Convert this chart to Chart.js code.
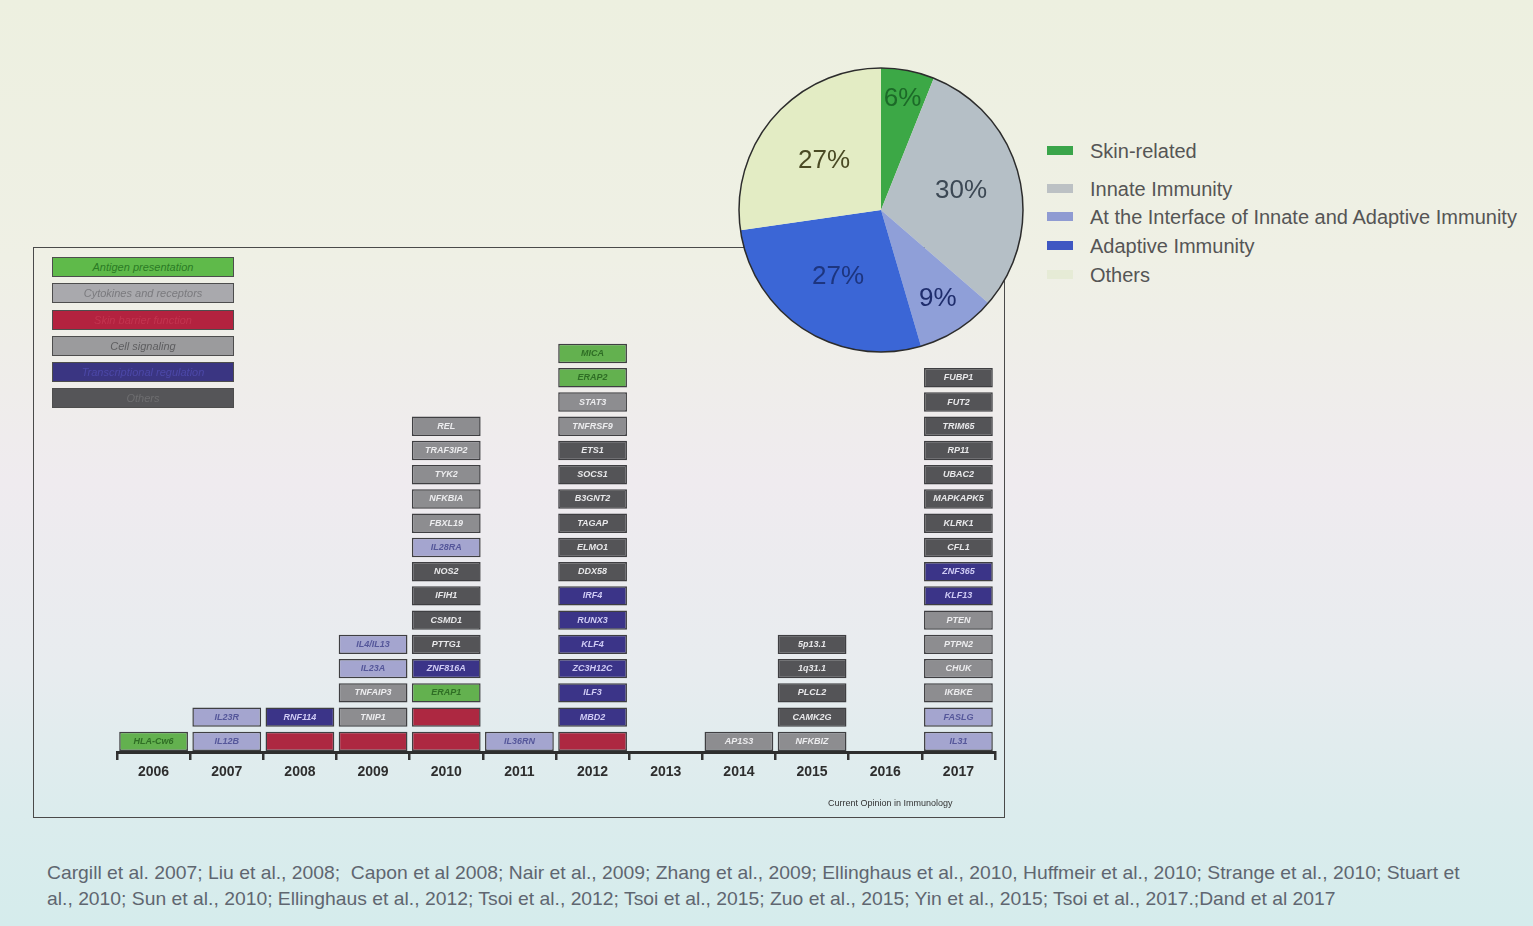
<!DOCTYPE html>
<html>
<head>
<meta charset="utf-8">
<script src="https://cdn.jsdelivr.net/npm/chart.js@4.4.1/dist/chart.umd.min.js"></script>
<style>
  html, body { margin: 0; padding: 0; }
  body {
    width: 1533px; height: 926px; position: relative; overflow: hidden;
    font-family: "Liberation Sans", Arial, sans-serif;
    background: linear-gradient(180deg, #edf0e0 0%, #eff0e5 28%, #efebef 52%, #e8ecef 72%, #dbeced 88%, #d5ecec 100%);
  }
  #box { position: absolute; left: 33px; top: 247px; width: 970px; height: 569px; border: 1.5px solid #4a4a4a; }
  #barWrap { position: absolute; left: 33px; top: 247px; width: 972px; height: 571px; }
  #pieWrap { position: absolute; left: 735px; top: 64px; width: 292px; height: 292px; }
  .fkey { position: absolute; left: 52px; width: 180px; height: 18px; border: 1.5px solid #4d4d4d;
          font-size: 11px; font-style: italic; text-align: center; line-height: 18px; }
  .pkey { position: absolute; left: 1047px; font-size: 20px; color: #555; }
  .pkey span { display: inline-block; width: 26px; height: 9px; margin-right: 17px; vertical-align: middle; position: relative; top: -2px; }
  #source { position: absolute; left: 828px; top: 798px; font-size: 9px; color: #333; }
  #refs { position: absolute; left: 47px; top: 860px; font-size: 19px; line-height: 26px; color: #5f6670;
          white-space: nowrap; transform-origin: 0 0; }
</style>
</head>
<body>
<div id="box"></div>
<div id="barWrap"><canvas id="barChart"></canvas></div>
<div id="pieWrap"><canvas id="pieChart"></canvas></div>
<div id="fkeys"></div>
<div id="pkeys"></div>
<div id="source">Current Opinion in Immunology</div>
<div id="refs">Cargill et al. 2007; Liu et al., 2008;&nbsp; Capon et al 2008; Nair et al., 2009; Zhang et al., 2009; Ellinghaus et al., 2010, Huffmeir et al., 2010; Strange et al., 2010; Stuart et<br>al., 2010; Sun et al., 2010; Ellinghaus et al., 2012; Tsoi et al., 2012; Tsoi et al., 2015; Zuo et al., 2015; Yin et al., 2015; Tsoi et al., 2017.;Dand et al 2017</div>

<script>
// years on the x axis
const years = ['2006', '2007', '2008', '2009', '2010', '2011', '2012', '2013', '2014', '2015', '2016', '2017'];

// genes per year, bottom to top
const genes = [
  ['HLA-Cw6'],
  ['IL12B', 'IL23R'],
  ['', 'RNF114'],
  ['', 'TNIP1', 'TNFAIP3', 'IL23A', 'IL4/IL13'],
  ['', '', 'ERAP1', 'ZNF816A', 'PTTG1', 'CSMD1', 'IFIH1', 'NOS2', 'IL28RA', 'FBXL19', 'NFKBIA', 'TYK2', 'TRAF3IP2', 'REL'],
  ['IL36RN'],
  ['', 'MBD2', 'ILF3', 'ZC3H12C', 'KLF4', 'RUNX3', 'IRF4', 'DDX58', 'ELMO1', 'TAGAP', 'B3GNT2', 'SOCS1', 'ETS1', 'TNFRSF9', 'STAT3', 'ERAP2', 'MICA'],
  [],
  ['AP1S3'],
  ['NFKBIZ', 'CAMK2G', 'PLCL2', '1q31.1', '5p13.1'],
  [],
  ['IL31', 'FASLG', 'IKBKE', 'CHUK', 'PTPN2', 'PTEN', 'KLF13', 'ZNF365', 'CFL1', 'KLRK1', 'MAPKAPK5', 'UBAC2', 'RP11', 'TRIM65', 'FUT2', 'FUBP1']
];

// function group of each gene (index into functionLabels)
const groups = [
  [0],
  [1, 1],
  [2, 4],
  [2, 3, 3, 1, 1],
  [2, 2, 0, 4, 5, 5, 5, 5, 1, 3, 3, 3, 3, 3],
  [1],
  [2, 4, 4, 4, 4, 4, 4, 5, 5, 5, 5, 5, 5, 3, 3, 0, 0],
  [],
  [3],
  [3, 5, 5, 5, 5],
  [],
  [1, 1, 3, 3, 3, 3, 4, 4, 5, 5, 5, 5, 5, 5, 5, 5]
];

const functionLabels = ['Antigen presentation', 'Cytokines and receptors', 'Skin barrier function', 'Cell signaling', 'Transcriptional regulation', 'Others'];

// pie
const pieLabels = ['Skin-related', 'Innate Immunity', 'At the Interface of Innate and Adaptive Immunity', 'Adaptive Immunity', 'Others'];
const pieValues = [6, 30, 9, 27, 27];

// styles
const groupFill = ['#63b14f', '#a4a5cf', '#ad2841', '#8d8d90', '#3b3488', '#545457'];
const groupText = ['#2f6e25', '#55579a', '#b8324c', '#ececee', '#cfcbf4', '#e8e8ea'];
const keyFill = ['#5fba4a', '#a9a9ad', '#b3223f', '#9b9b9d', '#3a3582', '#555558'];
const keyText = ['#2b7a25', '#7a7a7e', '#c2344f', '#5e5e60', '#4c48a8', '#6e6e70'];
const pieFill = ['#3ca846', '#b5bfc6', '#8f9fd8', '#3b66d6', '#e3ecc4'];
const pieText = ['#1c6a28', '#3c4854', '#1f2d6c', '#1d357f', '#4a4a24'];
const pieKeyFill = ['#3aa54a', '#bcc1c4', '#8f9bd2', '#3f57c2', '#e6ebd6'];
const pieLabelRadius = [0.8, 0.58, 0.74, 0.56, 0.53];

// left legend boxes
const keyTops = [257, 283, 310, 336, 362, 388];
functionLabels.forEach((t, i) => {
  const d = document.createElement('div');
  d.className = 'fkey';
  d.style.top = keyTops[i] + 'px';
  d.style.background = keyFill[i];
  d.style.color = keyText[i];
  d.textContent = t;
  document.getElementById('fkeys').appendChild(d);
});

// right legend
const pkeyTops = [140, 178, 206, 235, 264];
pieLabels.forEach((t, i) => {
  const d = document.createElement('div');
  d.className = 'pkey';
  d.style.top = pkeyTops[i] + 'px';
  d.innerHTML = '<span style="background:' + pieKeyFill[i] + '"></span>' + t;
  document.getElementById('pkeys').appendChild(d);
});

// squeeze the reference lines to the slide width
const refs = document.getElementById('refs');
refs.style.transform = 'scaleX(' + (1413 / refs.scrollWidth) + ')';

// one dataset per stack level, floating blocks
const maxLevel = Math.max(...genes.map(g => g.length));
const datasets = [];
for (let k = 0; k < maxLevel; k++) {
  datasets.push({
    data: genes.map(g => g.length > k ? [k + 0.04, k + 0.84] : null),
    names: genes.map(g => g[k] || ''),
    backgroundColor: groups.map(g => g.length > k ? groupFill[g[k]] : 'transparent'),
    textColor: groups.map(g => g.length > k ? groupText[g[k]] : 'transparent'),
    borderColor: '#3f3f42',
    borderWidth: 1.5,
    borderSkipped: false,
    grouped: false,
    barPercentage: 0.94,
    categoryPercentage: 1
  });
}

const geneNames = {
  id: 'geneNames',
  afterDatasetsDraw(chart) {
    const ctx = chart.ctx;
    ctx.save();
    ctx.font = 'italic bold 9px "Liberation Sans", Arial';
    ctx.textAlign = 'center';
    ctx.textBaseline = 'middle';
    chart.data.datasets.forEach((ds, di) => {
      chart.getDatasetMeta(di).data.forEach((bar, i) => {
        if (!ds.data[i] || !ds.names[i]) return;
        ctx.fillStyle = ds.textColor[i];
        ctx.fillText(ds.names[i], bar.x, (bar.y + bar.base) / 2);
      });
    });
    ctx.restore();
  }
};

new Chart(document.getElementById('barChart'), {
  type: 'bar',
  data: { labels: years, datasets: datasets },
  options: {
    responsive: true,
    maintainAspectRatio: false,
    animation: false,
    layout: { padding: { left: 84, right: 10, top: 13, bottom: 26 } },
    plugins: { legend: { display: false }, tooltip: { enabled: false } },
    scales: {
      x: {
        afterFit: s => { s.height = 40; },
        grid: { offset: true, drawOnChartArea: false, color: '#333', lineWidth: 2.5, tickLength: 8 },
        border: { color: '#2e2e2e', width: 3 },
        ticks: { color: '#2e2e2e', padding: 4, font: { size: 14, weight: 'bold', family: '"Liberation Sans", Arial' } }
      },
      y: { display: false, min: 0, max: 20.3 }
    }
  },
  plugins: [geneNames]
});

const pieExtras = {
  id: 'pieExtras',
  afterDatasetsDraw(chart) {
    const ctx = chart.ctx;
    const arcs = chart.getDatasetMeta(0).data;
    const a0 = arcs[0];
    ctx.save();
    ctx.beginPath();
    ctx.arc(a0.x, a0.y, a0.outerRadius, 0, Math.PI * 2);
    ctx.strokeStyle = '#2c2c2c';
    ctx.lineWidth = 1.5;
    ctx.stroke();
    ctx.font = '26px "Liberation Sans", Arial';
    ctx.textAlign = 'center';
    ctx.textBaseline = 'middle';
    arcs.forEach((arc, i) => {
      const mid = (arc.startAngle + arc.endAngle) / 2;
      const r = arc.outerRadius * pieLabelRadius[i];
      ctx.fillStyle = pieText[i];
      ctx.fillText(pieValues[i] + '%', arc.x + Math.cos(mid) * r, arc.y + Math.sin(mid) * r);
    });
    ctx.restore();
  }
};

new Chart(document.getElementById('pieChart'), {
  type: 'pie',
  data: {
    labels: pieLabels,
    datasets: [{ data: pieValues, backgroundColor: pieFill, borderWidth: 0 }]
  },
  options: {
    responsive: true,
    maintainAspectRatio: false,
    animation: false,
    layout: { padding: 4 },
    plugins: { legend: { display: false }, tooltip: { enabled: false } }
  },
  plugins: [pieExtras]
});
</script>
</body>
</html>
